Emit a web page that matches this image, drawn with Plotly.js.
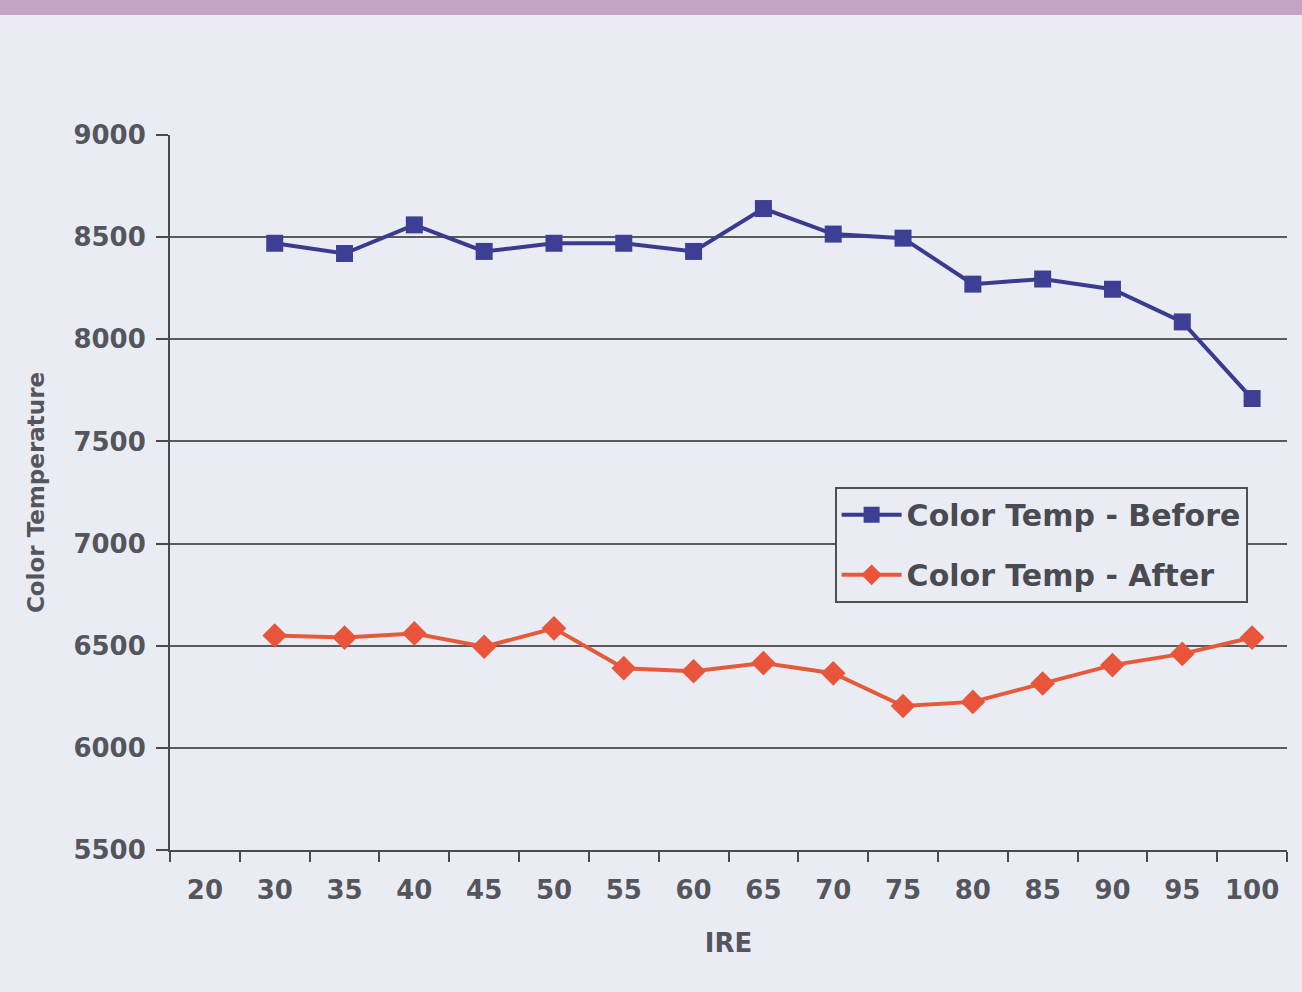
<!DOCTYPE html>
<html>
<head>
<meta charset="utf-8">
<script src="https://cdn.plot.ly/plotly-3.0.1.min.js"></script>
<style>html,body{margin:0;padding:0;background:#e9edf3;}#chart{width:1302px;height:992px;}</style>
</head>
<body>
<div id="chart"></div>
<script>
var ireLabels = ['20','30','35','40','45','50','55','60','65','70','75','80','85','90','95','100'];
var tempBefore = [null,8470,8420,8560,8430,8470,8470,8430,8640,8515,8495,8270,8295,8245,8085,7710];
var tempAfter  = [null,6550,6540,6560,6495,6585,6390,6375,6415,6365,6205,6225,6315,6405,6460,6540];
var yTicks = [5500,6000,6500,7000,7500,8000,8500,9000];
var gridVals = [6000,6500,7000,7500,8000,8500];

var fontFam = '"DejaVu Sans", Arial, sans-serif';
var traces = [
  {x: ireLabels, y: tempBefore, name: 'Color Temp - Before', legendgroup: 'a', type: 'scatter', mode: 'lines+markers',
   line: {color: '#3b3b8e', width: 4}, marker: {symbol: 'square', size: 17, color: '#3d3f95'}},
  {x: ireLabels, y: tempAfter, name: 'Color Temp - After', legendgroup: 'b', type: 'scatter', mode: 'lines+markers',
   line: {color: '#e65a3c', width: 4}, marker: {symbol: 'diamond', size: 19, color: '#e8553a'}},
  {x: ireLabels, y: tempAfter, yaxis: 'y2', type: 'scatter', mode: 'none', showlegend: false, hoverinfo: 'skip'}
];
var layout = {
  width: 1302, height: 992,
  paper_bgcolor: '#e9edf3', plot_bgcolor: '#e9edf3',
  margin: {l: 170, r: 15, t: 135, b: 142},
  font: {family: fontFam, color: '#4d4d55'},
  showlegend: true,
  legend: {x: 0.595, y: 0.508, xanchor: 'left', yanchor: 'top', bgcolor: '#e9edf3',
           bordercolor: '#505050', borderwidth: 2, traceorder: 'grouped', tracegroupgap: 18,
           itemwidth: 60,
           font: {family: fontFam, size: 30, color: '#4a4a52', weight: 'bold'}},
  xaxis: {type: 'category', range: [-0.5, 15.5], showgrid: false, zeroline: false,
          showline: true, linecolor: '#4a4a4a', linewidth: 2,
          ticks: 'outside', tickson: 'boundaries', ticklen: 10, tickwidth: 2, tickcolor: '#4a4a4a',
          ticklabelstandoff: 16,
          tickfont: {family: fontFam, size: 26, color: '#55555d', weight: 'bold'},
          title: {text: 'IRE', standoff: 30, font: {family: fontFam, size: 26, color: '#55555d', weight: 'bold'}}},
  yaxis: {range: [5500, 9000], tickvals: yTicks, showgrid: false, zeroline: false,
          showline: true, linecolor: '#4a4a4a', linewidth: 2,
          ticks: 'outside', ticklen: 12, tickwidth: 2, tickcolor: '#4a4a4a',
          ticklabelstandoff: 5,
          tickfont: {family: fontFam, size: 26, color: '#55555d', weight: 'bold'},
          title: {text: 'Color Temperature', standoff: 22, font: {family: fontFam, size: 23, color: '#55555d', weight: 'bold'}}},
  yaxis2: {range: [5500, 9000], overlaying: 'y', tickvals: gridVals, showticklabels: false,
           showgrid: true, gridcolor: '#5a5a5a', gridwidth: 2, zeroline: false, showline: false, ticks: ''},
  shapes: [
    {type: 'rect', xref: 'paper', yref: 'paper', x0: -0.2, x1: 1.02, y0: 1.168, y1: 1.2,
     fillcolor: '#c4a4c6', line: {width: 0}, layer: 'below'}
  ]
};
Plotly.newPlot('chart', traces, layout, {displayModeBar: false});
</script>
</body>
</html>
